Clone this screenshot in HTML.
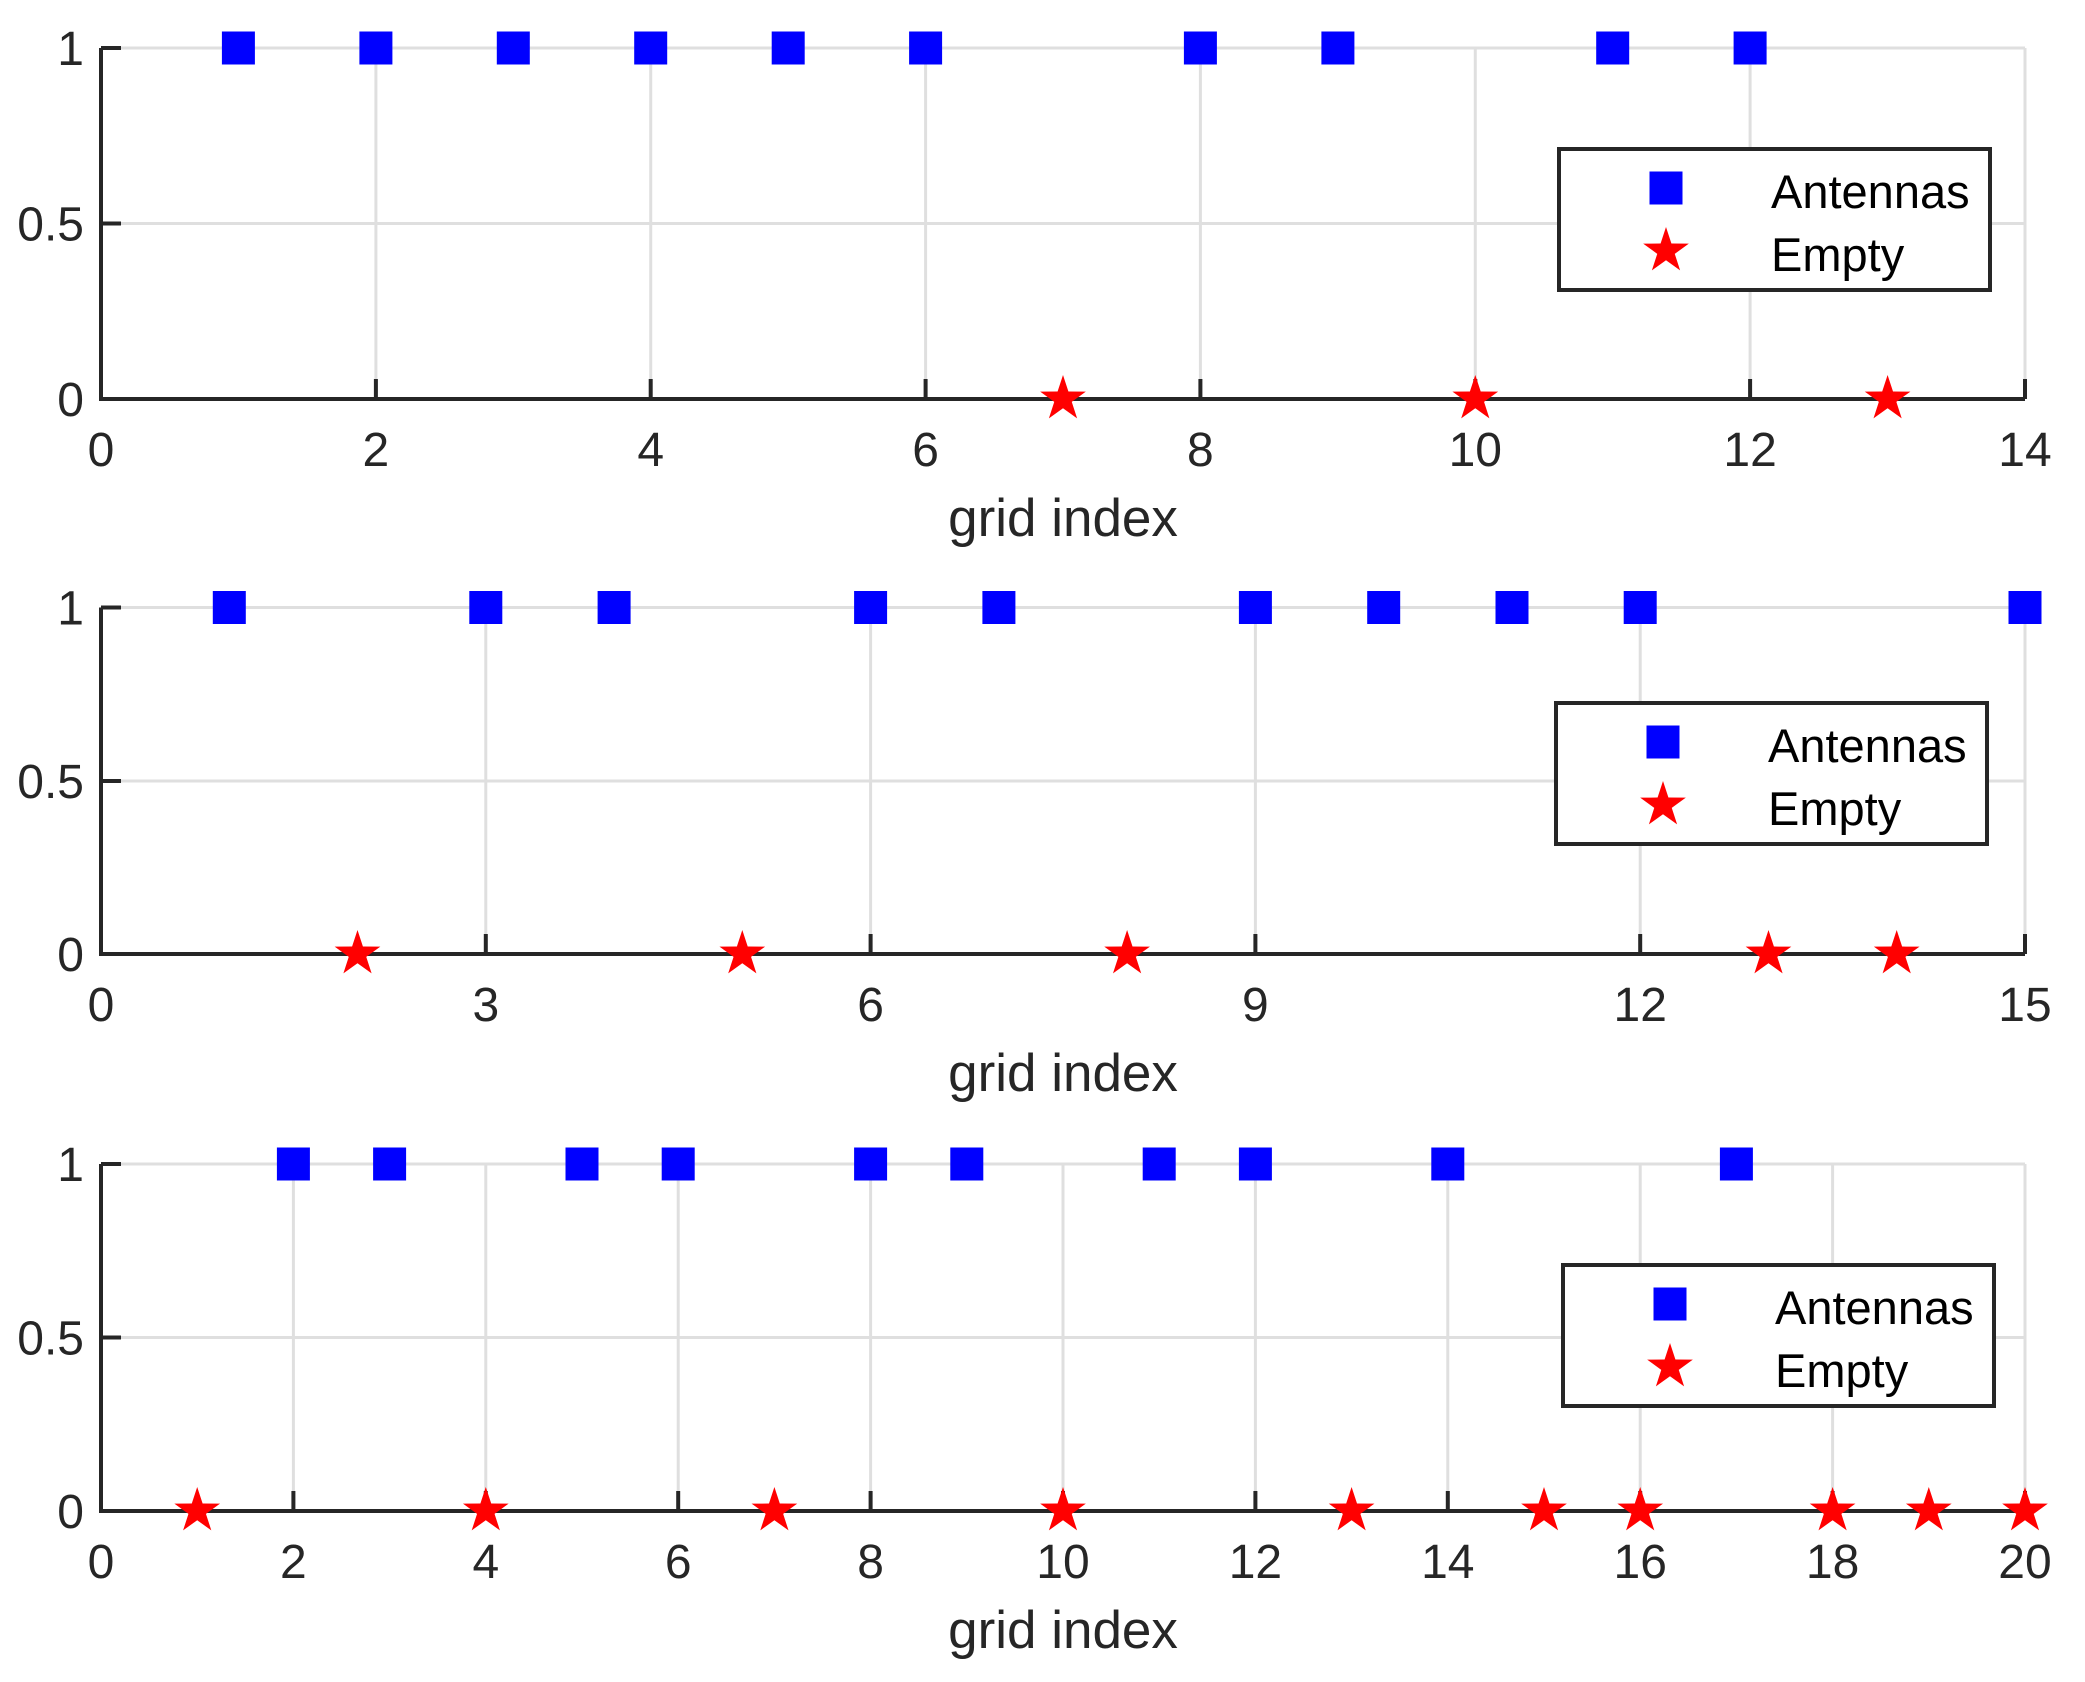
<!DOCTYPE html>
<html><head><meta charset="utf-8"><style>html,body{margin:0;padding:0;background:#fff}svg{display:block}text{font-family:"Liberation Sans",Arial,sans-serif;fill:#262626}</style></head>
<body>
<svg width="2085" height="1682" viewBox="0 0 2085 1682" xmlns="http://www.w3.org/2000/svg">
<defs>
<symbol id="sq" overflow="visible"><rect x="-16.5" y="-16.5" width="33" height="33" fill="#0000ff"/></symbol>
<symbol id="st" overflow="visible"><path d="M0,-24 L5.41,-7.44 L22.83,-7.42 L8.75,2.84 L14.11,19.42 L0,9.2 L-14.11,19.42 L-8.75,2.84 L-22.83,-7.42 L-5.41,-7.44 Z" fill="#ff0000"/></symbol>
</defs>

<!-- ===== Plot 1 ===== -->
<g stroke="#dfdfdf" stroke-width="3">
<line x1="101" y1="48" x2="2025" y2="48"/><line x1="101" y1="223.5" x2="2025" y2="223.5"/>
<line x1="375.9" y1="48" x2="375.9" y2="399"/><line x1="650.7" y1="48" x2="650.7" y2="399"/><line x1="925.6" y1="48" x2="925.6" y2="399"/><line x1="1200.4" y1="48" x2="1200.4" y2="399"/><line x1="1475.3" y1="48" x2="1475.3" y2="399"/><line x1="1750.1" y1="48" x2="1750.1" y2="399"/><line x1="2025" y1="48" x2="2025" y2="399"/>
</g>
<g stroke="#262626" stroke-width="4" fill="none">
<path d="M101,48 L101,399 L2025,399"/>
<path d="M101,48h20M101,223.5h20M375.9,399v-20M650.7,399v-20M925.6,399v-20M1200.4,399v-20M1475.3,399v-20M1750.1,399v-20M2025,399v-20"/>
</g>
<g font-size="48" text-anchor="end"><text x="84" y="65">1</text><text x="84" y="240.5">0.5</text><text x="84" y="416">0</text></g>
<g font-size="48" text-anchor="middle"><text x="101" y="466">0</text><text x="375.9" y="466">2</text><text x="650.7" y="466">4</text><text x="925.6" y="466">6</text><text x="1200.4" y="466">8</text><text x="1475.3" y="466">10</text><text x="1750.1" y="466">12</text><text x="2025" y="466">14</text></g>
<text x="1063" y="536" font-size="53" text-anchor="middle">grid index</text>
<use href="#sq" x="238.4" y="48"/><use href="#sq" x="375.9" y="48"/><use href="#sq" x="513.3" y="48"/><use href="#sq" x="650.7" y="48"/><use href="#sq" x="788.2" y="48"/><use href="#sq" x="925.6" y="48"/><use href="#sq" x="1200.4" y="48"/><use href="#sq" x="1337.9" y="48"/><use href="#sq" x="1612.7" y="48"/><use href="#sq" x="1750.1" y="48"/>
<use href="#st" x="1063" y="399"/><use href="#st" x="1475.3" y="399"/><use href="#st" x="1887.6" y="399"/>
<g transform="translate(1559,149)"><rect x="0" y="0" width="431" height="141" fill="#fff" stroke="#262626" stroke-width="4"/><use href="#sq" x="107" y="39"/><use href="#st" x="107" y="102"/><text x="212" y="59" font-size="47" style="fill:#000">Antennas</text><text x="212" y="122" font-size="47" style="fill:#000">Empty</text></g>

<!-- ===== Plot 2 ===== -->
<g stroke="#dfdfdf" stroke-width="3">
<line x1="101" y1="607.5" x2="2025" y2="607.5"/><line x1="101" y1="781" x2="2025" y2="781"/>
<line x1="485.8" y1="607.5" x2="485.8" y2="954"/><line x1="870.6" y1="607.5" x2="870.6" y2="954"/><line x1="1255.4" y1="607.5" x2="1255.4" y2="954"/><line x1="1640.2" y1="607.5" x2="1640.2" y2="954"/><line x1="2025" y1="607.5" x2="2025" y2="954"/>
</g>
<g stroke="#262626" stroke-width="4" fill="none">
<path d="M101,607.5 L101,954 L2025,954"/>
<path d="M101,607.5h20M101,781h20M485.8,954v-20M870.6,954v-20M1255.4,954v-20M1640.2,954v-20M2025,954v-20"/>
</g>
<g font-size="48" text-anchor="end"><text x="84" y="624.5">1</text><text x="84" y="798">0.5</text><text x="84" y="971">0</text></g>
<g font-size="48" text-anchor="middle"><text x="101" y="1021">0</text><text x="485.8" y="1021">3</text><text x="870.6" y="1021">6</text><text x="1255.4" y="1021">9</text><text x="1640.2" y="1021">12</text><text x="2025" y="1021">15</text></g>
<text x="1063" y="1091" font-size="53" text-anchor="middle">grid index</text>
<use href="#sq" x="229.3" y="607.5"/><use href="#sq" x="485.8" y="607.5"/><use href="#sq" x="614.1" y="607.5"/><use href="#sq" x="870.6" y="607.5"/><use href="#sq" x="998.9" y="607.5"/><use href="#sq" x="1255.4" y="607.5"/><use href="#sq" x="1383.7" y="607.5"/><use href="#sq" x="1512" y="607.5"/><use href="#sq" x="1640.2" y="607.5"/><use href="#sq" x="2025" y="607.5"/>
<use href="#st" x="357.5" y="954"/><use href="#st" x="742.3" y="954"/><use href="#st" x="1127.1" y="954"/><use href="#st" x="1768.5" y="954"/><use href="#st" x="1896.7" y="954"/>
<g transform="translate(1556,703)"><rect x="0" y="0" width="431" height="141" fill="#fff" stroke="#262626" stroke-width="4"/><use href="#sq" x="107" y="39"/><use href="#st" x="107" y="102"/><text x="212" y="59" font-size="47" style="fill:#000">Antennas</text><text x="212" y="122" font-size="47" style="fill:#000">Empty</text></g>

<!-- ===== Plot 3 ===== -->
<g stroke="#dfdfdf" stroke-width="3">
<line x1="101" y1="1164" x2="2025" y2="1164"/><line x1="101" y1="1337.5" x2="2025" y2="1337.5"/>
<line x1="293.4" y1="1164" x2="293.4" y2="1511"/><line x1="485.8" y1="1164" x2="485.8" y2="1511"/><line x1="678.2" y1="1164" x2="678.2" y2="1511"/><line x1="870.6" y1="1164" x2="870.6" y2="1511"/><line x1="1063" y1="1164" x2="1063" y2="1511"/><line x1="1255.4" y1="1164" x2="1255.4" y2="1511"/><line x1="1447.8" y1="1164" x2="1447.8" y2="1511"/><line x1="1640.2" y1="1164" x2="1640.2" y2="1511"/><line x1="1832.6" y1="1164" x2="1832.6" y2="1511"/><line x1="2025" y1="1164" x2="2025" y2="1511"/>
</g>
<g stroke="#262626" stroke-width="4" fill="none">
<path d="M101,1164 L101,1511 L2025,1511"/>
<path d="M101,1164h20M101,1337.5h20M293.4,1511v-20M485.8,1511v-20M678.2,1511v-20M870.6,1511v-20M1063,1511v-20M1255.4,1511v-20M1447.8,1511v-20M1640.2,1511v-20M1832.6,1511v-20M2025,1511v-20"/>
</g>
<g font-size="48" text-anchor="end"><text x="84" y="1181">1</text><text x="84" y="1354.5">0.5</text><text x="84" y="1528">0</text></g>
<g font-size="48" text-anchor="middle"><text x="101" y="1578">0</text><text x="293.4" y="1578">2</text><text x="485.8" y="1578">4</text><text x="678.2" y="1578">6</text><text x="870.6" y="1578">8</text><text x="1063" y="1578">10</text><text x="1255.4" y="1578">12</text><text x="1447.8" y="1578">14</text><text x="1640.2" y="1578">16</text><text x="1832.6" y="1578">18</text><text x="2025" y="1578">20</text></g>
<text x="1063" y="1648" font-size="53" text-anchor="middle">grid index</text>
<use href="#sq" x="293.4" y="1164"/><use href="#sq" x="389.6" y="1164"/><use href="#sq" x="582" y="1164"/><use href="#sq" x="678.2" y="1164"/><use href="#sq" x="870.6" y="1164"/><use href="#sq" x="966.8" y="1164"/><use href="#sq" x="1159.2" y="1164"/><use href="#sq" x="1255.4" y="1164"/><use href="#sq" x="1447.8" y="1164"/><use href="#sq" x="1736.4" y="1164"/>
<use href="#st" x="197.2" y="1511"/><use href="#st" x="485.8" y="1511"/><use href="#st" x="774.4" y="1511"/><use href="#st" x="1063" y="1511"/><use href="#st" x="1351.6" y="1511"/><use href="#st" x="1544" y="1511"/><use href="#st" x="1640.2" y="1511"/><use href="#st" x="1832.6" y="1511"/><use href="#st" x="1928.8" y="1511"/><use href="#st" x="2025" y="1511"/>
<g transform="translate(1563,1265)"><rect x="0" y="0" width="431" height="141" fill="#fff" stroke="#262626" stroke-width="4"/><use href="#sq" x="107" y="39"/><use href="#st" x="107" y="102"/><text x="212" y="59" font-size="47" style="fill:#000">Antennas</text><text x="212" y="122" font-size="47" style="fill:#000">Empty</text></g>
</svg>
</body></html>
